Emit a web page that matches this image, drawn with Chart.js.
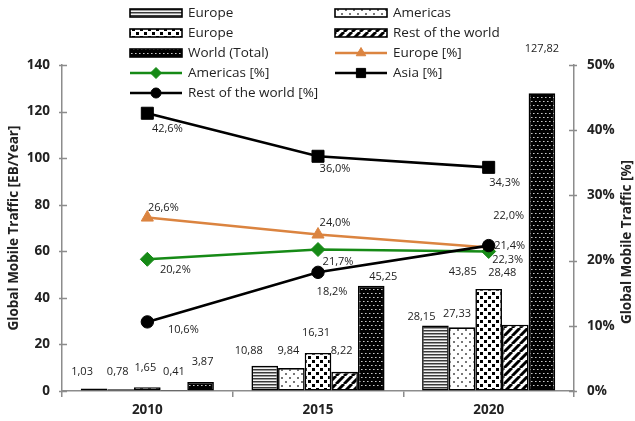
<!DOCTYPE html>
<html><head><meta charset="utf-8">
<script src="https://cdn.jsdelivr.net/npm/chart.js@4"></script>
<style>html,body{margin:0;padding:0;background:#fff}canvas{display:block}</style>
</head><body>
<canvas id="c" width="635" height="421"></canvas>
<script>
// ---- data ----
const categories = ['2010', '2015', '2020'];
const europeEB   = [1.03, 10.88, 28.15];
const americasEB = [0.78, 9.84, 27.33];
const europe2EB  = [1.65, 16.31, 43.85];
const restEB     = [0.41, 8.22, 28.48];
const worldEB    = [3.87, 45.25, 127.82];
const europePct   = [26.6, 24.0, 22.0];
const americasPct = [20.2, 21.7, 21.4];
const asiaPct     = [42.6, 36.0, 34.3];
const restPct     = [10.6, 18.2, 22.3];
const leftTicks  = [0, 20, 40, 60, 80, 100, 120, 140];
const rightTicks = [0, 10, 20, 30, 40, 50];
const barNames  = ['Europe', 'Americas', 'Europe', 'Rest of the world', 'World (Total)'];
const lineNames = ['Europe [%]', 'Americas [%]', 'Asia [%]', 'Rest of the world [%]'];
const leftTitle  = 'Global Mobile Traffic [EB/Year]';
const rightTitle = 'Global Mobile Traffic [%]';

// ---- styling ----
const FONT = "'Open Sans', 'DejaVu Sans', sans-serif";
const barLabelOffsets = [
  [[-12,-17],[-16,-15],[-14,-9]],
  [[-3,-17],[-3,-17],[-5,-14]],
  [[-2,-19],[-2,-20],[-26,-17]],
  [[0,-18],[-3,-21],[-13,-52]],
  [[2,-20],[12,-9],[0,-45]]
];
const lineLabelOffsets = [
  [[16,-10],[17,-12],[20,-32]],
  [[28,11],[20,12],[21,-6]],
  [[20,16],[17,13],[16,15]],
  [[36,8],[14,20],[19,14]]
];

function makePattern(w, h, draw) {
  const c = document.createElement('canvas');
  c.width = w; c.height = h;
  const g = c.getContext('2d');
  draw(g, w, h);
  return g.createPattern(c, 'repeat');
}
const patStripes = makePattern(4, 3, (g) => {
  g.fillStyle = '#f4f4f4'; g.fillRect(0,0,4,3);
  g.fillStyle = '#3a3a3a'; g.fillRect(0,0,4,1);
  g.fillStyle = '#9a9a9a'; g.fillRect(0,1,4,1);
});
const patSparse = makePattern(8, 8, (g) => {
  g.fillStyle = '#fff'; g.fillRect(0,0,8,8);
  g.fillStyle = '#777'; g.fillRect(1,1,2,2); g.fillRect(5,5,2,2);
});
const patDense = makePattern(8, 8, (g) => {
  g.fillStyle = '#fff'; g.fillRect(0,0,8,8);
  g.fillStyle = '#000'; g.fillRect(0,0,3,3); g.fillRect(4,4,3,3);
});
const patDiag = makePattern(8, 8, (g) => {
  g.fillStyle = '#fff'; g.fillRect(0,0,8,8);
  g.strokeStyle = '#000'; g.lineWidth = 3;
  g.beginPath();
  for (let k = -1; k <= 1; k++) { g.moveTo(k*8, 8); g.lineTo(k*8+8, 0); }
  g.stroke();
});
const patWorld = makePattern(8, 8, (g) => {
  g.fillStyle = '#000'; g.fillRect(0,0,8,8);
  g.fillStyle = '#c8c8c8';
  g.fillRect(1,1,1,1); g.fillRect(5,1,1,1); g.fillRect(3,5,1,1); g.fillRect(7,5,1,1);
  g.fillStyle = '#707070';
  g.fillRect(2,1,1,1); g.fillRect(6,1,1,1); g.fillRect(4,5,1,1); g.fillRect(0,5,1,1);
});
const barFills = [patStripes, patSparse, patDense, patDiag, patWorld];
const barData = [europeEB, americasEB, europe2EB, restEB, worldEB];
const lineData = [europePct, americasPct, asiaPct, restPct];
const lineColors = ['#DB8440', '#168A16', '#000', '#000'];
const lineMarkers = ['triangle', 'rectRot', 'rect', 'circle'];
const lineRadius = [7, 7, 8.5, 6.2];
const legendRadius = [5.5, 5.5, 6.5, 5];
const lineOrder = [4, 3, 2, 1];

const datasets = [];
barData.forEach((d, i) => datasets.push({
  type: 'bar', label: barNames[i], data: d, yAxisID: 'y',
  backgroundColor: barFills[i], borderColor: '#000', borderWidth: 1.6,
  borderSkipped: false, order: 10,
  barPercentage: 1.0, categoryPercentage: 0.78
}));
lineData.forEach((d, i) => datasets.push({
  type: 'line', label: lineNames[i], data: d, yAxisID: 'y1',
  borderColor: lineColors[i], backgroundColor: lineColors[i], borderWidth: 2.6,
  pointStyle: lineMarkers[i], pointRadius: lineRadius[i], pointBorderWidth: 1,
  pointBackgroundColor: lineColors[i], pointBorderColor: lineColors[i],
  tension: 0, fill: false, order: lineOrder[i]
}));

const fmt = (v, dec) => v.toFixed(dec).replace('.', ',');

const labelPlugin = {
  id: 'labels',
  afterDatasetsDraw(chart) {
    const ctx = chart.ctx;
    ctx.save();
    ctx.font = '11px ' + FONT;
    ctx.fillStyle = '#222';
    ctx.textAlign = 'center';
    ctx.textBaseline = 'middle';
    chart.data.datasets.forEach((ds, di) => {
      const meta = chart.getDatasetMeta(di);
      meta.data.forEach((el, j) => {
        if (ds.type === 'bar') {
          const off = barLabelOffsets[di][j];
          ctx.fillText(fmt(ds.data[j], 2), el.x + off[0], el.y + off[1]);
        } else {
          const li = di - barData.length;
          const off = lineLabelOffsets[li][j];
          ctx.fillText(fmt(ds.data[j], 1) + '%', el.x + off[0], el.y + off[1]);
        }
      });
    });
    ctx.restore();
  },
  afterDraw(chart) {
    const ctx = chart.ctx;
    const a = chart.chartArea;
    ctx.save();
    // inner tick marks on value axes
    ctx.strokeStyle = '#8c8c8c'; ctx.lineWidth = 1.5;
    const y = chart.scales.y, y1 = chart.scales.y1;
    ctx.beginPath();
    leftTicks.forEach(v => { const p = Math.round(y.getPixelForValue(v)) + 0.5; ctx.moveTo(a.left - 3, p); ctx.lineTo(a.left + 5, p); });
    rightTicks.forEach(v => { const p = Math.round(y1.getPixelForValue(v)) + 0.5; ctx.moveTo(a.right - 5, p); ctx.lineTo(a.right + 3, p); });
    ctx.stroke();
    // right axis title (reads bottom to top)
    ctx.save();
    ctx.translate(627, (a.top + a.bottom) / 2 + 14);
    ctx.rotate(-Math.PI / 2);
    ctx.font = 'bold 13.5px ' + FONT;
    ctx.fillStyle = '#222';
    ctx.textAlign = 'center'; ctx.textBaseline = 'middle';
    ctx.fillText(rightTitle, 0, 0);
    ctx.restore();
    // legend
    const cols = [130, 335];
    const rows = [13, 33, 53, 73, 93];
    const items = [];
    for (let i = 0; i < barNames.length; i++) items.push({ kind: 'bar', i });
    for (let i = 0; i < lineNames.length; i++) items.push({ kind: 'line', i });
    ctx.font = '13.5px ' + FONT;
    ctx.textBaseline = 'middle';
    ctx.textAlign = 'left';
    items.forEach((it, k) => {
      const x = cols[k % 2], yy = rows[Math.floor(k / 2)];
      if (it.kind === 'bar') {
        ctx.fillStyle = barFills[it.i];
        ctx.fillRect(x, yy - 4, 52, 8);
        ctx.strokeStyle = '#000'; ctx.lineWidth = 1.6;
        ctx.strokeRect(x, yy - 4, 52, 8);
        ctx.fillStyle = '#222';
        ctx.fillText(barNames[it.i], x + 58, yy);
      } else {
        const c = lineColors[it.i];
        ctx.strokeStyle = c; ctx.lineWidth = 2.6;
        ctx.beginPath(); ctx.moveTo(x, yy); ctx.lineTo(x + 52, yy); ctx.stroke();
        ctx.fillStyle = c; ctx.strokeStyle = c; ctx.lineWidth = 1;
        Chart.helpers.drawPoint(ctx, { pointStyle: lineMarkers[it.i], radius: legendRadius[it.i], rotation: 0, borderWidth: 1 }, x + 26, yy);
        ctx.fillStyle = '#222';
        ctx.fillText(lineNames[it.i], x + 58, yy);
      }
    });
    ctx.restore();
  }
};

new Chart(document.getElementById('c'), {
  type: 'bar',
  data: { labels: categories, datasets },
  options: {
    responsive: false, animation: false, devicePixelRatio: 1,
    layout: { padding: { top: 65, right: 0, left: 0, bottom: 0 } },
    plugins: { legend: { display: false }, tooltip: { enabled: false } },
    scales: {
      x: {
        offset: true,
        grid: { drawOnChartArea: false, drawTicks: true, tickLength: 6, color: '#8c8c8c', lineWidth: 1.5, offset: true },
        border: { color: '#8c8c8c', width: 1.5 },
        ticks: { color: '#222', font: { family: FONT, size: 13.5, weight: 'bold' }, padding: 5 },
        afterFit: s => { s.height = 30; }
      },
      y: {
        position: 'left', min: 0, max: 140,
        afterBuildTicks: s => { s.ticks = leftTicks.map(v => ({ value: v })); },
        grid: { drawOnChartArea: false, drawTicks: false },
        border: { color: '#8c8c8c', width: 1.5 },
        ticks: { color: '#222', font: { family: FONT, size: 13.5, weight: 'bold' }, padding: 12 },
        title: { display: true, text: leftTitle, color: '#222', font: { family: FONT, size: 13.5, weight: 'bold' }, padding: { top: 6, bottom: 0 } },
        afterFit: s => { s.width = 62; }
      },
      y1: {
        position: 'right', min: 0, max: 50,
        afterBuildTicks: s => { s.ticks = rightTicks.map(v => ({ value: v })); },
        grid: { drawOnChartArea: false, drawTicks: false },
        border: { color: '#8c8c8c', width: 1.5 },
        ticks: { color: '#222', font: { family: FONT, size: 13.5, weight: 'bold' }, padding: 13, callback: v => v + '%' },
        afterFit: s => { s.width = 61; }
      }
    }
  },
  plugins: [labelPlugin]
});
</script>
</body></html>
